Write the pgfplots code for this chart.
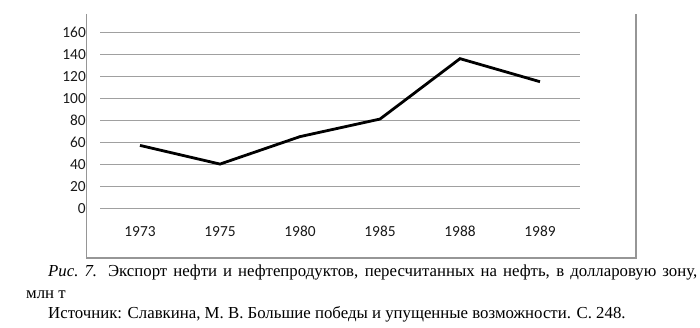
\documentclass[border=0pt]{standalone}
\usepackage{pgfplots}
\pgfplotsset{compat=1.18}
\usepackage{fontspec}
\setmainfont{Liberation Serif}
\newfontfamily\carlito{Carlito}
\definecolor{gridgray}{RGB}{160,160,160}
\definecolor{framegray}{RGB}{150,150,150}
\begin{document}
\begin{tikzpicture}[x=1pt,y=1pt]
\useasboundingbox (0,0) rectangle (700,327);
\draw[framegray, line width=1.8pt] (86.5,313) -- (86.5,69) -- (636,69) -- (636,313);
\begin{axis}[
  at={(140pt,119pt)}, anchor=origin,
  scale only axis, width=480pt, height=175.7pt,
  xmin=-0.5, xmax=5.5, ymin=0, ymax=160,
  axis line style={draw=none},
  xtick={0,1,2,3,4,5},
  xticklabels={1973,1975,1980,1985,1988,1989},
  ytick={0,20,...,160},
  ymajorgrids, grid style={gridgray, line width=0.9pt},
  major tick length=0pt,
  /pgf/number format/assume math mode=true,
  ticklabel style={font=\carlito\fontsize{15.4}{18}\selectfont, text=black!90},
  yticklabel style={anchor=base east, inner sep=0pt, xshift=-14pt, yshift=-5pt},
  xticklabel style={anchor=base, inner sep=0pt, yshift=-28.5pt},
  clip=false,
]
\addplot[black, line width=2.8pt, line join=miter] coordinates {
  (0,57) (1,40) (2,65) (3,81) (4,136) (5,115)
};
\end{axis}
\node[anchor=base west, inner sep=0pt, font=\fontsize{16.8}{19}\selectfont] at (48,50.3)
  {\makebox[649pt][s]{\textit{Рис.\ 7.} Экспорт нефти и нефтепродуктов, пересчитанных на нефть, в долларовую зону,}};
\node[anchor=base west, inner sep=0pt, font=\fontsize{16.8}{19}\selectfont] at (26,29)
  {млн т};
\node[anchor=base west, inner sep=0pt, font=\fontsize{16.8}{19}\selectfont] at (48,9)
  {Источник: Славкина, М. В. Большие победы и упущенные возможности. С. 248.};
\end{tikzpicture}
\end{document}
